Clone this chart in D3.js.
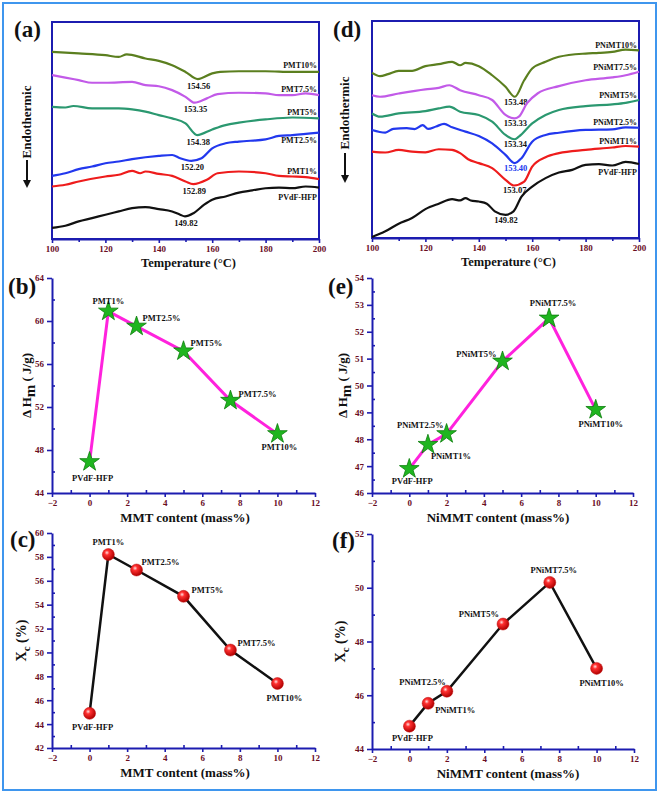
<!DOCTYPE html>
<html><head><meta charset="utf-8">
<script src="https://cdn.jsdelivr.net/npm/d3@7/dist/d3.min.js"></script>
<style>
body{margin:0;background:#fff}
svg{display:block}
text{font-family:"Liberation Serif","Times New Roman",serif;font-weight:bold}
</style>
</head><body>
<svg id="chart" width="661" height="796"></svg>
<script>
// ---------------- DATA ----------------
const tempTicks = [100, 120, 140, 160, 180, 200];
const tempMinor = [110, 130, 150, 170, 190];
const contentTicks = [-2, 0, 2, 4, 6, 8, 10, 12];
const contentMinor = [-1, 1, 3, 5, 7, 9, 11];

// DSC panel (a): heat flow in arbitrary units vs temperature
const namesA = ["PMT10%", "PMT7.5%", "PMT5%", "PMT2.5%", "PMT1%", "PVdF-HFP"];
const peaksA = ["154.56", "153.35", "154.38", "152.20", "152.89", "149.82"];
const dscA_PMT10 = [[100,86.2],[110,85.5],[120,84.7],[125,83.9],[128,85.1],[135,83.2],[140,82.1],[145,80.1],[150,77.0],[154.6,73.7],[160,76.3],[163,77.0],[170,77.3],[180,77.3],[190,77.0],[200,77.0]];
const dscA_PMT75 = [[100,75.5],[105,74.4],[110,73.2],[115,72.0],[120,72.0],[130,72.4],[135,70.9],[140,70.4],[145,68.6],[150,65.5],[153.4,62.8],[158,64.8],[162,66.8],[170,67.4],[180,67.1],[185,66.3],[190,66.3],[195,67.1],[200,66.3]];
const dscA_PMT5 = [[100,60.9],[105,60.6],[108,61.3],[115,60.2],[125,60.2],[130,59.7],[135,58.7],[140,57.1],[145,55.6],[150,53.3],[154.4,47.9],[160,50.5],[165,52.5],[170,53.6],[180,55.1],[190,56.0],[200,55.6]];
const dscA_PMT25 = [[100,29.1],[105,30.3],[110,32.2],[115,33.4],[120,34.9],[125,35.7],[130,36.8],[140,38.3],[145,38.7],[148,37.2],[152.2,36.0],[156,37.2],[160,41.8],[165,44.1],[170,44.9],[180,45.9],[185,47.5],[190,47.9],[200,49.0]];
const dscA_PMT1 = [[100,24.2],[105,25.0],[110,26.5],[120,28.8],[125,29.6],[130,31.4],[133,30.3],[135,31.1],[140,30.0],[145,29.1],[150,26.5],[152.9,25.3],[158,27.3],[162,30.3],[170,31.1],[180,30.3],[185,29.1],[190,28.8],[195,28.5],[200,27.6]];
const dscA_PVdF = [[100,5.1],[105,6.1],[110,8.1],[115,9.6],[120,11.2],[125,12.7],[130,14.2],[135,14.7],[140,13.8],[145,12.7],[148,11.2],[149.8,10.4],[153,11.9],[157,15.8],[160,18.1],[165,19.6],[170,21.4],[175,22.4],[180,23.4],[185,23.7],[190,23.4],[195,24.2],[200,23.7]];

// DSC panel (d)
const namesD = ["PNiMT10%", "PNiMT7.5%", "PNiMT5%", "PNiMT2.5%", "PNiMT1%", "PVdF-HFP"];
const peaksD = ["153.48", "153.33", "153.34", "153.40", "153.07", "149.82"];
const dscD_PNiMT10 = [[100,76.1],[103,74.6],[106,75.5],[110,77.0],[115,77.0],[120,79.2],[125,80.1],[130,81.2],[133,79.6],[135,80.7],[140,79.2],[145,75.0],[150,69.7],[153.5,65.1],[157,72.7],[160,78.1],[165,81.2],[170,83.5],[180,85.0],[185,85.3],[190,85.8],[195,86.8],[200,86.5]];
const dscD_PNiMT75 = [[100,65.8],[103,65.1],[110,66.6],[120,68.5],[125,69.2],[129,70.4],[133,68.1],[140,65.8],[145,63.6],[150,56.7],[153.3,55.1],[155,55.9],[158,62.0],[162,66.6],[170,70.0],[180,72.7],[190,74.0],[195,75.0],[200,76.6]];
const dscD_PNiMT5 = [[100,57.4],[103,55.9],[110,57.4],[120,58.5],[125,59.7],[129,60.5],[133,58.2],[140,56.7],[145,53.6],[150,47.5],[153.3,45.5],[155,46.7],[160,52.8],[165,56.7],[170,59.0],[180,60.8],[190,61.6],[195,62.3],[200,63.6]];
const dscD_PNiMT25 = [[100,49.8],[105,48.6],[108,50.3],[113,50.6],[116,50.2],[119,52.0],[121,50.3],[124,51.4],[127,52.6],[130,51.0],[135,49.0],[140,47.0],[145,43.6],[150,38.3],[153.4,34.5],[156,36.8],[160,44.4],[165,47.5],[170,48.5],[180,49.8],[190,50.1],[195,51.0],[200,50.8]];
const dscD_PNiMT1 = [[100,39.8],[105,39.4],[110,40.6],[115,39.8],[120,39.5],[125,40.9],[130,40.6],[133,39.1],[136,36.3],[140,34.5],[145,32.2],[150,26.8],[153.1,24.2],[157,26.0],[160,32.9],[165,37.2],[170,39.1],[180,40.6],[190,41.7],[195,42.4],[200,42.1]];
const dscD_PVdF = [[100,0.5],[105,3.1],[110,6.6],[115,9.2],[120,13.3],[125,15.8],[130,17.9],[133,17.3],[135,18.4],[137,17.3],[140,16.8],[143,15.8],[146,12.3],[150,10.7],[153,12.3],[156,19.1],[160,23.7],[165,27.6],[170,30.2],[175,31.4],[180,33.7],[185,34.0],[190,33.4],[195,35.1],[200,34.1]];

// Scatter panels
const contentMMT = [0, 1, 2.5, 5, 7.5, 10];
const contentNiMMT = [0, 1, 2, 5, 7.5, 10];
const namesMMT = ["PVdF-HFP", "PMT1%", "PMT2.5%", "PMT5%", "PMT7.5%", "PMT10%"];
const namesNiMMT = ["PVdF-HFP", "PNiMT1%", "PNiMT2.5%", "PNiMT5%", "PNiMT7.5%", "PNiMT10%"];
const dHm_MMT = [46.9, 60.9, 59.5, 57.2, 52.6, 49.5];
const dHm_NiMMT = [46.9, 47.8, 48.2, 50.9, 52.5, 49.1];
const Xc_MMT = [44.9, 58.2, 56.9, 54.7, 50.2, 47.4];
const Xc_NiMMT = [44.85, 45.7, 46.15, 48.65, 50.2, 47.0];

const ticksB = [44, 48, 52, 56, 60, 64], minorB = [46, 50, 54, 58, 62];
const ticksE = [46, 47, 48, 49, 50, 51, 52, 53, 54], minorE = [46.5, 47.5, 48.5, 49.5, 50.5, 51.5, 52.5, 53.5];
const ticksC = [42, 44, 46, 48, 50, 52, 54, 56, 58, 60], minorC = [43, 45, 47, 49, 51, 53, 55, 57, 59];
const ticksF = [44, 46, 48, 50, 52], minorF = [45, 47, 49, 51];

// ---------------- STYLE / LAYOUT ----------------
const AXIS = "#1c1cb0", TICKTXT = "#6a0d1f", BORDER = "#3f96ee";
const curveColors = ["#5b7f1f", "#c25ae8", "#2b9870", "#2238ee", "#ee1c1c", "#111111"];
const labelDyA = [-3.5, -3.5, -3.5, 10.5, -5.5, 12];
const labelDyD = [-2, -2, -2, -3, -3, 11];

const svg = d3.select("#chart");
svg.append("rect").attr("x", 3).attr("y", 3).attr("width", 653).attr("height", 787)
  .attr("fill", "none").attr("stroke", BORDER).attr("stroke-width", 2);

const defs = svg.append("defs");
const rg = defs.append("radialGradient").attr("id", "ball").attr("cx", "38%").attr("cy", "35%").attr("r", "65%");
rg.append("stop").attr("offset", "0%").attr("stop-color", "#ffe0e0");
rg.append("stop").attr("offset", "30%").attr("stop-color", "#ff3030");
rg.append("stop").attr("offset", "100%").attr("stop-color", "#b00000");

function styleAxis(g, fontSize) {
  g.select(".domain").attr("stroke", AXIS).attr("stroke-width", 2);
  g.selectAll(".tick line").attr("stroke", AXIS).attr("stroke-width", 1.6);
  g.selectAll(".tick text").attr("fill", TICKTXT).attr("font-size", fontSize)
    .attr("font-family", "Liberation Serif, serif").attr("font-weight", "bold");
}

function panelLabel(txt, x, y) {
  svg.append("text").attr("x", x).attr("y", y).attr("font-size", 23).attr("fill", "#111").text(txt);
}

function endoTitle(x, yc, arrowTop, arrowBot) {
  svg.append("text").attr("transform", `translate(${x},${yc}) rotate(-90)`)
    .attr("text-anchor", "middle").attr("font-size", 13).attr("fill", "#111").text("Endothermic");
  svg.append("line").attr("x1", x - 4).attr("x2", x - 4).attr("y1", arrowTop).attr("y2", arrowBot - 6)
    .attr("stroke", "#111").attr("stroke-width", 2);
  svg.append("path").attr("d", `M${x - 8},${arrowBot - 8}L${x},${arrowBot - 8}L${x - 4},${arrowBot}Z`).attr("fill", "#111");
}

function dscPanel(o) {
  const x = d3.scaleLinear().domain([100, 200]).range([o.x0, o.x1]);
  const y = d3.scaleLinear().domain([0, 100]).range([o.yb, o.yt]);
  svg.append("rect").attr("x", o.x0).attr("y", o.yt).attr("width", o.x1 - o.x0).attr("height", o.yb - o.yt)
    .attr("fill", "none").attr("stroke", AXIS).attr("stroke-width", 2);
  const gx = svg.append("g").attr("transform", `translate(0,${o.yb})`)
    .call(d3.axisBottom(x).tickValues(tempTicks).tickSize(4).tickSizeOuter(0).tickPadding(3).tickFormat(d3.format("d")));
  styleAxis(gx, 9);
  const gm = svg.append("g").attr("transform", `translate(0,${o.yb})`)
    .call(d3.axisBottom(x).tickValues(tempMinor).tickSize(3).tickFormat(""));
  gm.select(".domain").remove();
  gm.selectAll(".tick line").attr("stroke", AXIS).attr("stroke-width", 1.6);

  const line = d3.line().x(d => x(d[0])).y(d => y(d[1])).curve(d3.curveMonotoneX);
  o.series.forEach((s, i) => {
    svg.append("path").datum(s).attr("d", line).attr("fill", "none")
      .attr("stroke", curveColors[i]).attr("stroke-width", 2.2).attr("stroke-linejoin", "round");
    const last = s[s.length - 1];
    svg.append("text").attr("x", o.x1 - 2).attr("y", y(last[1]) + o.labelDy[i])
      .attr("text-anchor", "end").attr("font-size", 8).attr("fill", "#111").text(o.names[i]);
    const pT = +o.peaks[i];
    const pk = s.reduce((a, b) => (Math.abs(b[0] - pT) < Math.abs(a[0] - pT) ? b : a));
    svg.append("text").attr("x", x(pT) + 1).attr("y", y(pk[1]) + o.peakDy)
      .attr("text-anchor", "middle").attr("font-size", 8.5)
      .attr("fill", o.peakColors ? o.peakColors[i] : "#111").text(o.peaks[i]);
  });
  svg.append("text").attr("x", (o.x0 + o.x1) / 2 + 3).attr("y", o.yb + 28).attr("text-anchor", "middle")
    .attr("font-size", 12.5).attr("fill", "#111").text("Temperature (°C)");
}

function scatterPanel(o) {
  const x = d3.scaleLinear().domain([-2, 12]).range([o.x0, o.x1]);
  const y = d3.scaleLinear().domain(o.ydom).range([o.yb, o.yt]);
  const gx = svg.append("g").attr("transform", `translate(0,${o.yb})`)
    .call(d3.axisBottom(x).tickValues(contentTicks).tickSize(4).tickSizeOuter(0).tickPadding(3).tickFormat(d3.format("d")));
  styleAxis(gx, 9);
  const gxm = svg.append("g").attr("transform", `translate(0,${o.yb})`)
    .call(d3.axisBottom(x).tickValues(contentMinor).tickSize(-3).tickFormat(""));
  gxm.select(".domain").remove();
  gxm.selectAll(".tick line").attr("stroke", AXIS).attr("stroke-width", 1.6);
  const gy = svg.append("g").attr("transform", `translate(${o.x0},0)`)
    .call(d3.axisLeft(y).tickValues(o.yticks).tickSize(5).tickSizeOuter(0).tickPadding(3).tickFormat(d3.format("d")));
  styleAxis(gy, 9);
  const gym = svg.append("g").attr("transform", `translate(${o.x0},0)`)
    .call(d3.axisLeft(y).tickValues(o.yminor).tickSize(-3).tickFormat(""));
  gym.select(".domain").remove();
  gym.selectAll(".tick line").attr("stroke", AXIS).attr("stroke-width", 1.6);

  const pts = o.xs.map((v, i) => [v, o.ys[i]]);
  svg.append("path").datum(pts).attr("d", d3.line().x(d => x(d[0])).y(d => y(d[1])))
    .attr("fill", "none").attr("stroke", o.lineColor).attr("stroke-width", o.lineWidth);
  pts.forEach((p, i) => {
    if (o.marker === "star") {
      svg.append("path").attr("d", d3.symbol().type(d3.symbolStar).size(120)())
        .attr("transform", `translate(${x(p[0])},${y(p[1])})`)
        .attr("fill", "#1fb51f").attr("stroke", "#0c7d0c").attr("stroke-width", 0.8);
    } else {
      svg.append("circle").attr("cx", x(p[0])).attr("cy", y(p[1])).attr("r", 6)
        .attr("fill", "url(#ball)").attr("stroke", "#c01010").attr("stroke-width", 0.5);
    }
    const L = o.labels[i];
    svg.append("text").attr("x", x(p[0]) + L[0]).attr("y", y(p[1]) + L[1] + 3)
      .attr("text-anchor", L[2]).attr("font-size", 8.5).attr("fill", "#111").text(o.names[i]);
  });
  svg.append("text").attr("x", o.titleX).attr("y", o.yb + 29).attr("text-anchor", "middle")
    .attr("font-size", 13).attr("fill", "#111").text(o.xTitle);
  o.yTitle(svg.append("text").attr("transform", `translate(${o.ytX},${(o.yt + o.yb) / 2}) rotate(-90)`)
    .attr("text-anchor", "middle").attr("fill", "#111"));
}

function dHmTitle(t) {
  t.attr("font-size", 13);
  t.append("tspan").text("Δ H");
  t.append("tspan").attr("dy", 4).attr("font-size", 15).text("m");
  t.append("tspan").attr("dy", -4).text(" ( J/g)");
}
function XcTitle(t) {
  t.attr("font-size", 14);
  t.append("tspan").text("X");
  t.append("tspan").attr("dy", 4).attr("font-size", 11).text("c");
  t.append("tspan").attr("dy", -4).text(" (%)");
}

// ---------------- PANELS ----------------
dscPanel({x0: 52, x1: 319, yt: 22, yb: 239,
  series: [dscA_PMT10, dscA_PMT75, dscA_PMT5, dscA_PMT25, dscA_PMT1, dscA_PVdF],
  names: namesA, peaks: peaksA, labelDy: labelDyA, peakDy: 9.5});
dscPanel({x0: 372, x1: 639, yt: 21, yb: 238,
  series: [dscD_PNiMT10, dscD_PNiMT75, dscD_PNiMT5, dscD_PNiMT25, dscD_PNiMT1, dscD_PVdF],
  names: namesD, peaks: peaksD, labelDy: labelDyD, peakDy: 8,
  peakColors: ["#111", "#111", "#111", "#2238ee", "#111", "#111"]});
panelLabel("(a)", 14, 37);
panelLabel("(d)", 333, 37);
endoTitle(31, 122, 160, 188);
endoTitle(349, 113, 153, 183);

scatterPanel({x0: 52, x1: 315, yt: 278, yb: 493, ydom: [44, 64], yticks: ticksB, yminor: minorB,
  xs: contentMMT, ys: dHm_MMT, names: namesMMT, marker: "star", lineColor: "#ff22dd", lineWidth: 3,
  labels: [[3, 16, "middle"], [0, -10, "middle"], [6, -8, "start"], [7, -8, "start"], [8, -7, "start"], [2, 13, "middle"]],
  xTitle: "MMT content (mass%)", titleX: 185, ytX: 31, yTitle: dHmTitle});
scatterPanel({x0: 372, x1: 633, yt: 278, yb: 493, ydom: [46, 54], yticks: ticksE, yminor: minorE,
  xs: contentNiMMT, ys: dHm_NiMMT, names: namesNiMMT, marker: "star", lineColor: "#ff22dd", lineWidth: 3,
  labels: [[3, 12, "middle"], [3, 11, "start"], [-3, -9, "end"], [-6, -7, "end"], [4, -15, "middle"], [5, 14, "middle"]],
  xTitle: "NiMMT content (mass%)", titleX: 498, ytX: 347, yTitle: dHmTitle});
scatterPanel({x0: 52, x1: 315, yt: 533, yb: 748, ydom: [42, 60], yticks: ticksC, yminor: minorC,
  xs: contentMMT, ys: Xc_MMT, names: namesMMT, marker: "ball", lineColor: "#111", lineWidth: 2.5,
  labels: [[3, 14, "middle"], [0, -13, "middle"], [5, -8, "start"], [8, -6, "start"], [7, -7, "start"], [7, 14, "middle"]],
  xTitle: "MMT content (mass%)", titleX: 185, ytX: 26, yTitle: XcTitle});
scatterPanel({x0: 372, x1: 634, yt: 534, yb: 749, ydom: [44, 52], yticks: ticksF, yminor: minorF,
  xs: contentNiMMT, ys: Xc_NiMMT, names: namesNiMMT, marker: "ball", lineColor: "#111", lineWidth: 2.5,
  labels: [[3, 12, "middle"], [7, 7, "start"], [-1, -9, "end"], [-4, -10, "end"], [4, -12, "middle"], [5, 15, "middle"]],
  xTitle: "NiMMT content (mass%)", titleX: 508, ytX: 345, yTitle: XcTitle});
panelLabel("(b)", 8, 294);
panelLabel("(e)", 328, 294);
panelLabel("(c)", 10, 547);
panelLabel("(f)", 332, 548);
</script>
</body></html>
